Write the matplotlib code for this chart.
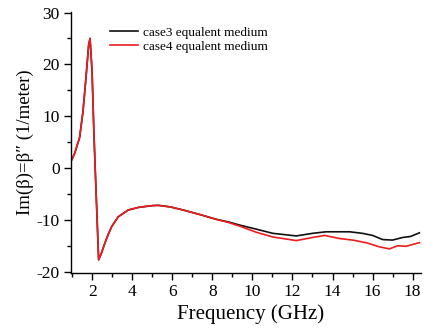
import matplotlib
matplotlib.use("Agg")
import matplotlib.pyplot as plt
from matplotlib.ticker import MultipleLocator

plt.rcParams['font.family'] = ['Liberation Serif', 'DejaVu Serif']
plt.rcParams['axes.unicode_minus'] = False

# shared low-frequency part (both cases coincide)
freq_common = [0.94, 1.12, 1.37, 1.54, 1.70, 1.82, 1.89, 1.99, 2.08, 2.15, 2.32, 2.45,
               2.63, 2.80, 2.97, 3.30, 3.8, 4.3, 5.0, 5.3, 5.9, 6.54, 7.4, 8.2]
val_common = [1.3, 2.8, 5.9, 11.0, 18.0, 23.7, 25.0, 18.7, 7.2, -0.4, -17.7, -16.5,
              -14.5, -12.8, -11.3, -9.4, -8.1, -7.6, -7.25, -7.2, -7.5, -8.1, -9.0, -9.9]

freq_case3_tail = [8.8, 9.36, 10.2, 11.02, 12.19, 13.0, 13.68, 14.85, 15.5, 16.0, 16.5,
                   17.0, 17.5, 17.9, 18.34]
val_case3_tail = [-10.4, -11.0, -11.8, -12.6, -13.1, -12.6, -12.3, -12.3, -12.6, -13.0,
                  -13.8, -13.9, -13.4, -13.2, -12.5]

freq_case4_tail = [8.8, 9.36, 10.2, 11.02, 12.19, 13.0, 13.6, 14.35, 15.0, 15.68, 16.34,
                   16.84, 17.25, 17.67, 18.34]
val_case4_tail = [-10.5, -11.2, -12.4, -13.3, -14.0, -13.4, -13.0, -13.6, -13.9, -14.4,
                  -15.2, -15.6, -15.0, -15.1, -14.4]

labels = ['case3 equalent medium', 'case4 equalent medium']
x_ticks = [2, 4, 6, 8, 10, 12, 14, 16, 18]
y_ticks = [-20, -10, 0, 10, 20, 30]

fig = plt.figure(figsize=(4.24, 3.28), dpi=100)
ax = fig.add_axes([0.1675, 0.1677, 0.8245, 0.7957])

ax.plot(freq_common + freq_case3_tail, val_common + val_case3_tail, color='#111111', lw=1.2,
        label=labels[0], solid_joinstyle='round')
ax.plot(freq_common + freq_case4_tail, val_common + val_case4_tail, color='#ee1c1c', lw=1.2,
        label=labels[1], solid_joinstyle='round')

ax.set_xlim(0.94, 18.4)
ax.set_ylim(-20.25, 30.1)
ax.set_xticks(x_ticks)
ax.set_yticks(y_ticks)
ax.xaxis.set_minor_locator(MultipleLocator(1))
ax.yaxis.set_minor_locator(MultipleLocator(5))
for s in ['top', 'right']:
    ax.spines[s].set_visible(False)
for s in ['left', 'bottom']:
    ax.spines[s].set_linewidth(1.0)
ax.tick_params(which='major', direction='out', length=5, width=1, labelsize=12.5, pad=3)
ax.tick_params(which='minor', direction='out', length=3, width=1)

ax.set_xlabel('Frequency (GHz)', fontsize=15, labelpad=3)
ax.xaxis.label.set_x(0.514)
ax.set_ylabel("Im(β)=β\u2033 (1/meter)", fontsize=13.5, labelpad=2)

leg = ax.legend(loc='upper left', bbox_to_anchor=(0.111, 0.944), frameon=False,
                fontsize=9.5, handlelength=2.1, handletextpad=0.45, labelspacing=0.12,
                borderpad=0, borderaxespad=0)

fig.savefig('out.png', dpi=100)
